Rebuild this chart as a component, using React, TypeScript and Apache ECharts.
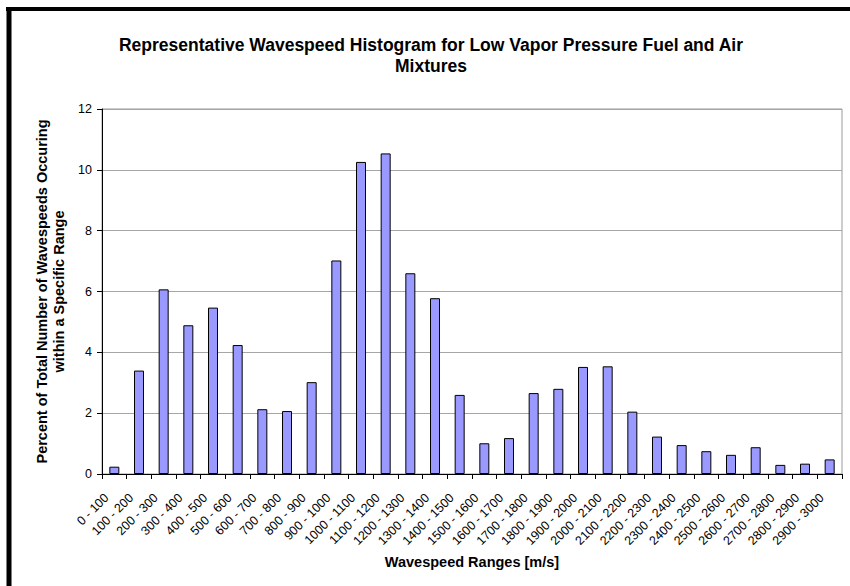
import React, { useEffect, useRef } from "react";
import * as echarts from "echarts";

const categories = [
  "0 - 100", "100 - 200", "200 - 300", "300 - 400", "400 - 500", "500 - 600",
  "600 - 700", "700 - 800", "800 - 900", "900 - 1000", "1000 - 1100", "1100 - 1200",
  "1200 - 1300", "1300 - 1400", "1400 - 1500", "1500 - 1600", "1600 - 1700", "1700 - 1800",
  "1800 - 1900", "1900 - 2000", "2000 - 2100", "2100 - 2200", "2200 - 2300", "2300 - 2400",
  "2400 - 2500", "2500 - 2600", "2600 - 2700", "2700 - 2800", "2800 - 2900", "2900 - 3000",
];

const percentValues = [
  0.24, 3.4, 6.07, 4.89, 5.47, 4.24, 2.13, 2.07, 3.02, 7.02, 10.26, 10.54,
  6.6, 5.78, 2.6, 1.01, 1.18, 2.66, 2.8, 3.52, 3.54, 2.05, 1.23, 0.95,
  0.75, 0.63, 0.88, 0.3, 0.34, 0.48,
];

const titleLines = [
  "Representative Wavespeed Histogram for Low Vapor Pressure Fuel and Air",
  "Mixtures",
];
const yAxisTitle = "Percent of Total Number of Wavespeeds Occuring\nwithin a Specific Range";
const xAxisTitle = "Wavespeed Ranges [m/s]";

const FONT = "'Liberation Sans', Arial, sans-serif";

export default function App() {
  const ref = useRef<HTMLDivElement>(null);

  useEffect(() => {
    if (!ref.current) return;
    const chart = echarts.init(ref.current, undefined, { renderer: "svg" });
    chart.setOption({
      animation: false,
      backgroundColor: "#ffffff",
      textStyle: { fontFamily: FONT },
      graphic: [
        {
          type: "line",
          shape: { x1: 6, y1: 9, x2: 850, y2: 9 },
          style: { stroke: "#000", lineWidth: 4 },
        },
        {
          type: "line",
          shape: { x1: 9, y1: 7, x2: 9, y2: 586 },
          style: { stroke: "#000", lineWidth: 5 },
        },
        {
          type: "text",
          x: 431,
          y: 55.5,
          style: {
            text: titleLines.join("\n"),
            textAlign: "center",
            textVerticalAlign: "middle",
            fontSize: 17.5,
            fontWeight: "bold",
            lineHeight: 21,
            fontFamily: FONT,
            fill: "#000",
          },
        },
      ],
      grid: {
        left: 102,
        right: 8,
        top: 109,
        bottom: 112,
        show: true,
        borderColor: "#999999",
        borderWidth: 1,
      },
      xAxis: {
        type: "category",
        data: categories,
        boundaryGap: true,
        name: xAxisTitle,
        nameLocation: "middle",
        nameGap: 76,
        nameTextStyle: { fontSize: 14.5, fontWeight: "bold", color: "#000", fontFamily: FONT },
        axisLine: { lineStyle: { color: "#000", width: 1 } },
        axisTick: { show: true, alignWithLabel: false, length: 5, lineStyle: { color: "#000" } },
        axisLabel: {
          interval: 0,
          rotate: 45,
          fontSize: 12.5,
          color: "#000",
          margin: 14,
          padding: [0, 11, 0, 0],
          fontFamily: FONT,
        },
        splitLine: { show: false },
      },
      yAxis: {
        type: "value",
        min: 0,
        max: 12,
        interval: 2,
        name: yAxisTitle,
        nameLocation: "middle",
        nameRotate: 90,
        nameGap: 33,
        nameTextStyle: {
          fontSize: 14.5,
          fontWeight: "bold",
          color: "#000",
          lineHeight: 17,
          align: "center",
          fontFamily: FONT,
        },
        axisLine: { show: true, lineStyle: { color: "#000", width: 1 } },
        axisTick: { show: true, inside: false, length: 5, lineStyle: { color: "#000" } },
        axisLabel: { fontSize: 12.5, color: "#000", margin: 10, fontFamily: FONT },
        splitLine: { show: true, lineStyle: { color: "#a6a6a6", width: 1 } },
      },
      series: [
        {
          type: "bar",
          data: percentValues,
          barWidth: 10,
          itemStyle: { color: "#9999ff", borderColor: "#000", borderWidth: 1 },
        },
      ],
    });
    return () => chart.dispose();
  }, []);

  return (
    <div
      ref={ref}
      style={{ position: "absolute", left: 0, top: 0, width: 850, height: 586 }}
    />
  );
}
